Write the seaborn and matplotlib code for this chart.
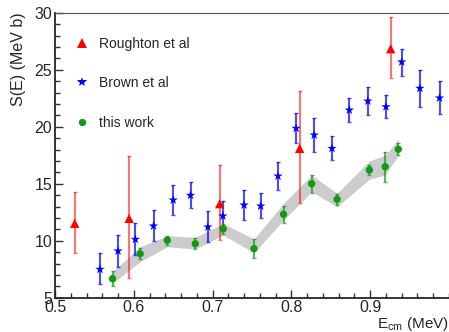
import numpy as np
import pandas as pd
import matplotlib
matplotlib.use("Agg")
import matplotlib.pyplot as plt
from matplotlib.ticker import MultipleLocator
import seaborn as sns

# Roughton et al
rough_x = [0.525, 0.594, 0.709, 0.8105, 0.926]
rough_y = [11.53, 11.96, 13.25, 18.1, 26.84]
rough_lo = [8.9, 6.7, 10.06, 13.33, 24.25]
rough_hi = [14.27, 17.43, 16.6, 23.13, 29.6]

# Brown et al
brown_x = [0.557, 0.580, 0.602, 0.625, 0.650, 0.672, 0.694, 0.713, 0.740, 0.761,
           0.783, 0.806, 0.829, 0.8515, 0.8735, 0.897, 0.920, 0.940, 0.963, 0.988]
brown_y = [7.49, 9.1, 10.12, 11.29, 13.57, 13.98, 11.2, 12.17, 13.13, 13.04,
           15.67, 19.86, 19.27, 18.1, 21.46, 22.25, 21.75, 25.68, 23.37, 22.52]
brown_lo = [6.18, 7.72, 8.77, 9.95, 12.23, 12.84, 9.86, 10.85, 11.8, 11.96,
            14.42, 18.6, 17.8, 17.05, 20.4, 21.0, 20.76, 24.47, 21.7, 21.14]
brown_hi = [8.9, 10.47, 11.53, 12.72, 14.91, 15.12, 12.58, 13.5, 14.45, 14.2,
            16.9, 21.18, 20.79, 19.18, 22.5, 23.5, 22.8, 26.84, 24.95, 23.98]

# this work
work_x = [0.573, 0.608, 0.6425, 0.678, 0.7135, 0.7525, 0.79, 0.8257, 0.858, 0.899, 0.919, 0.9357]
work_y = [6.67, 8.86, 10.03, 9.74, 11.05, 9.3, 12.32, 15.0, 13.63, 16.2, 16.49, 18.02]
work_lo = [6.03, 8.37, 9.65, 9.3, 10.6, 8.46, 11.58, 14.2, 13.13, 15.8, 15.15, 17.5]
work_hi = [7.34, 9.39, 10.4, 10.2, 11.5, 10.15, 13.07, 15.74, 14.12, 16.6, 17.8, 18.6]

# grey band around this work
band_lo = [6.26, 8.16, 9.47, 9.27, 10.5, 8.95, 11.8, 14.3, 12.98, 15.4, 15.76, 17.5]
band_hi = [7.28, 9.47, 10.44, 10.3, 11.5, 10.15, 13.28, 15.76, 14.16, 17.0, 17.5, 18.92]

sns.set_style("ticks")
plt.rcParams['font.family'] = ['Liberation Sans', 'DejaVu Sans']
plt.rcParams['mathtext.fontset'] = 'custom'
plt.rcParams['mathtext.rm'] = 'Liberation Sans'

fig = plt.figure(figsize=(4.49, 3.32), dpi=100)
ax = fig.add_axes([0.1225, 0.1033, 0.8775, 0.8584])

ax.fill_between(work_x, band_lo, band_hi, color='#cccccc', lw=0, zorder=1)

def bars(x, y, lo, hi, color, alpha):
    yerr = [np.array(y) - np.array(lo), np.array(hi) - np.array(y)]
    ax.errorbar(x, y, yerr=yerr, fmt='none', ecolor=color, alpha=alpha,
                elinewidth=1.5, capsize=1.5, capthick=1, zorder=2)

bars(rough_x, rough_y, rough_lo, rough_hi, '#ff0000', 0.55)
bars(brown_x, brown_y, brown_lo, brown_hi, '#0000ff', 0.7)
bars(work_x, work_y, work_lo, work_hi, '#119911', 0.7)

df = pd.concat([
    pd.DataFrame({'E': rough_x, 'S': rough_y, 'set': 'Roughton et al'}),
    pd.DataFrame({'E': brown_x, 'S': brown_y, 'set': 'Brown et al'}),
    pd.DataFrame({'E': work_x, 'S': work_y, 'set': 'this work'}),
])
sns.scatterplot(data=df, x='E', y='S', hue='set', style='set',
                palette={'Roughton et al': '#ff0000', 'Brown et al': '#0000ff', 'this work': '#119911'},
                markers={'Roughton et al': '^', 'Brown et al': '*', 'this work': 'o'},
                size='set', sizes={'Roughton et al': 45, 'Brown et al': 50, 'this work': 28},
                edgecolor='none', linewidth=0, ax=ax, zorder=3)

h, l = ax.get_legend_handles_labels()
ax.legend(h, l, loc='upper left', bbox_to_anchor=(0.02, 0.96), frameon=False,
          fontsize=10, labelspacing=1.85, handlelength=1.0, handletextpad=0.7)

ax.set_xlim(0.5, 1.0)
ax.set_ylim(5, 30)
ax.xaxis.set_major_locator(MultipleLocator(0.1))
ax.xaxis.set_minor_locator(MultipleLocator(0.02))
ax.yaxis.set_major_locator(MultipleLocator(5))
ax.yaxis.set_minor_locator(MultipleLocator(1))
ax.set_xticks([0.5, 0.6, 0.7, 0.8, 0.9])
ax.set_xticklabels(['0.5', '0.6', '0.7', '0.8', '0.9'])
ax.tick_params(which='major', direction='in', length=6, width=1, labelsize=11.5, pad=2, color='#333333')
ax.tick_params(which='minor', direction='in', length=3.5, width=1, color='#333333')
ax.spines['right'].set_visible(False)
ax.spines['top'].set_color('#555555')
ax.spines['left'].set_linewidth(1.3)
ax.spines['bottom'].set_linewidth(1.3)

ax.set_xlabel('E$_{\\rm cm}$ (MeV)', fontsize=11, loc='right', labelpad=0)
ax.set_ylabel('S(E) (MeV b)', fontsize=11.5, loc='top', labelpad=6)

fig.savefig('out.png', dpi=100)
